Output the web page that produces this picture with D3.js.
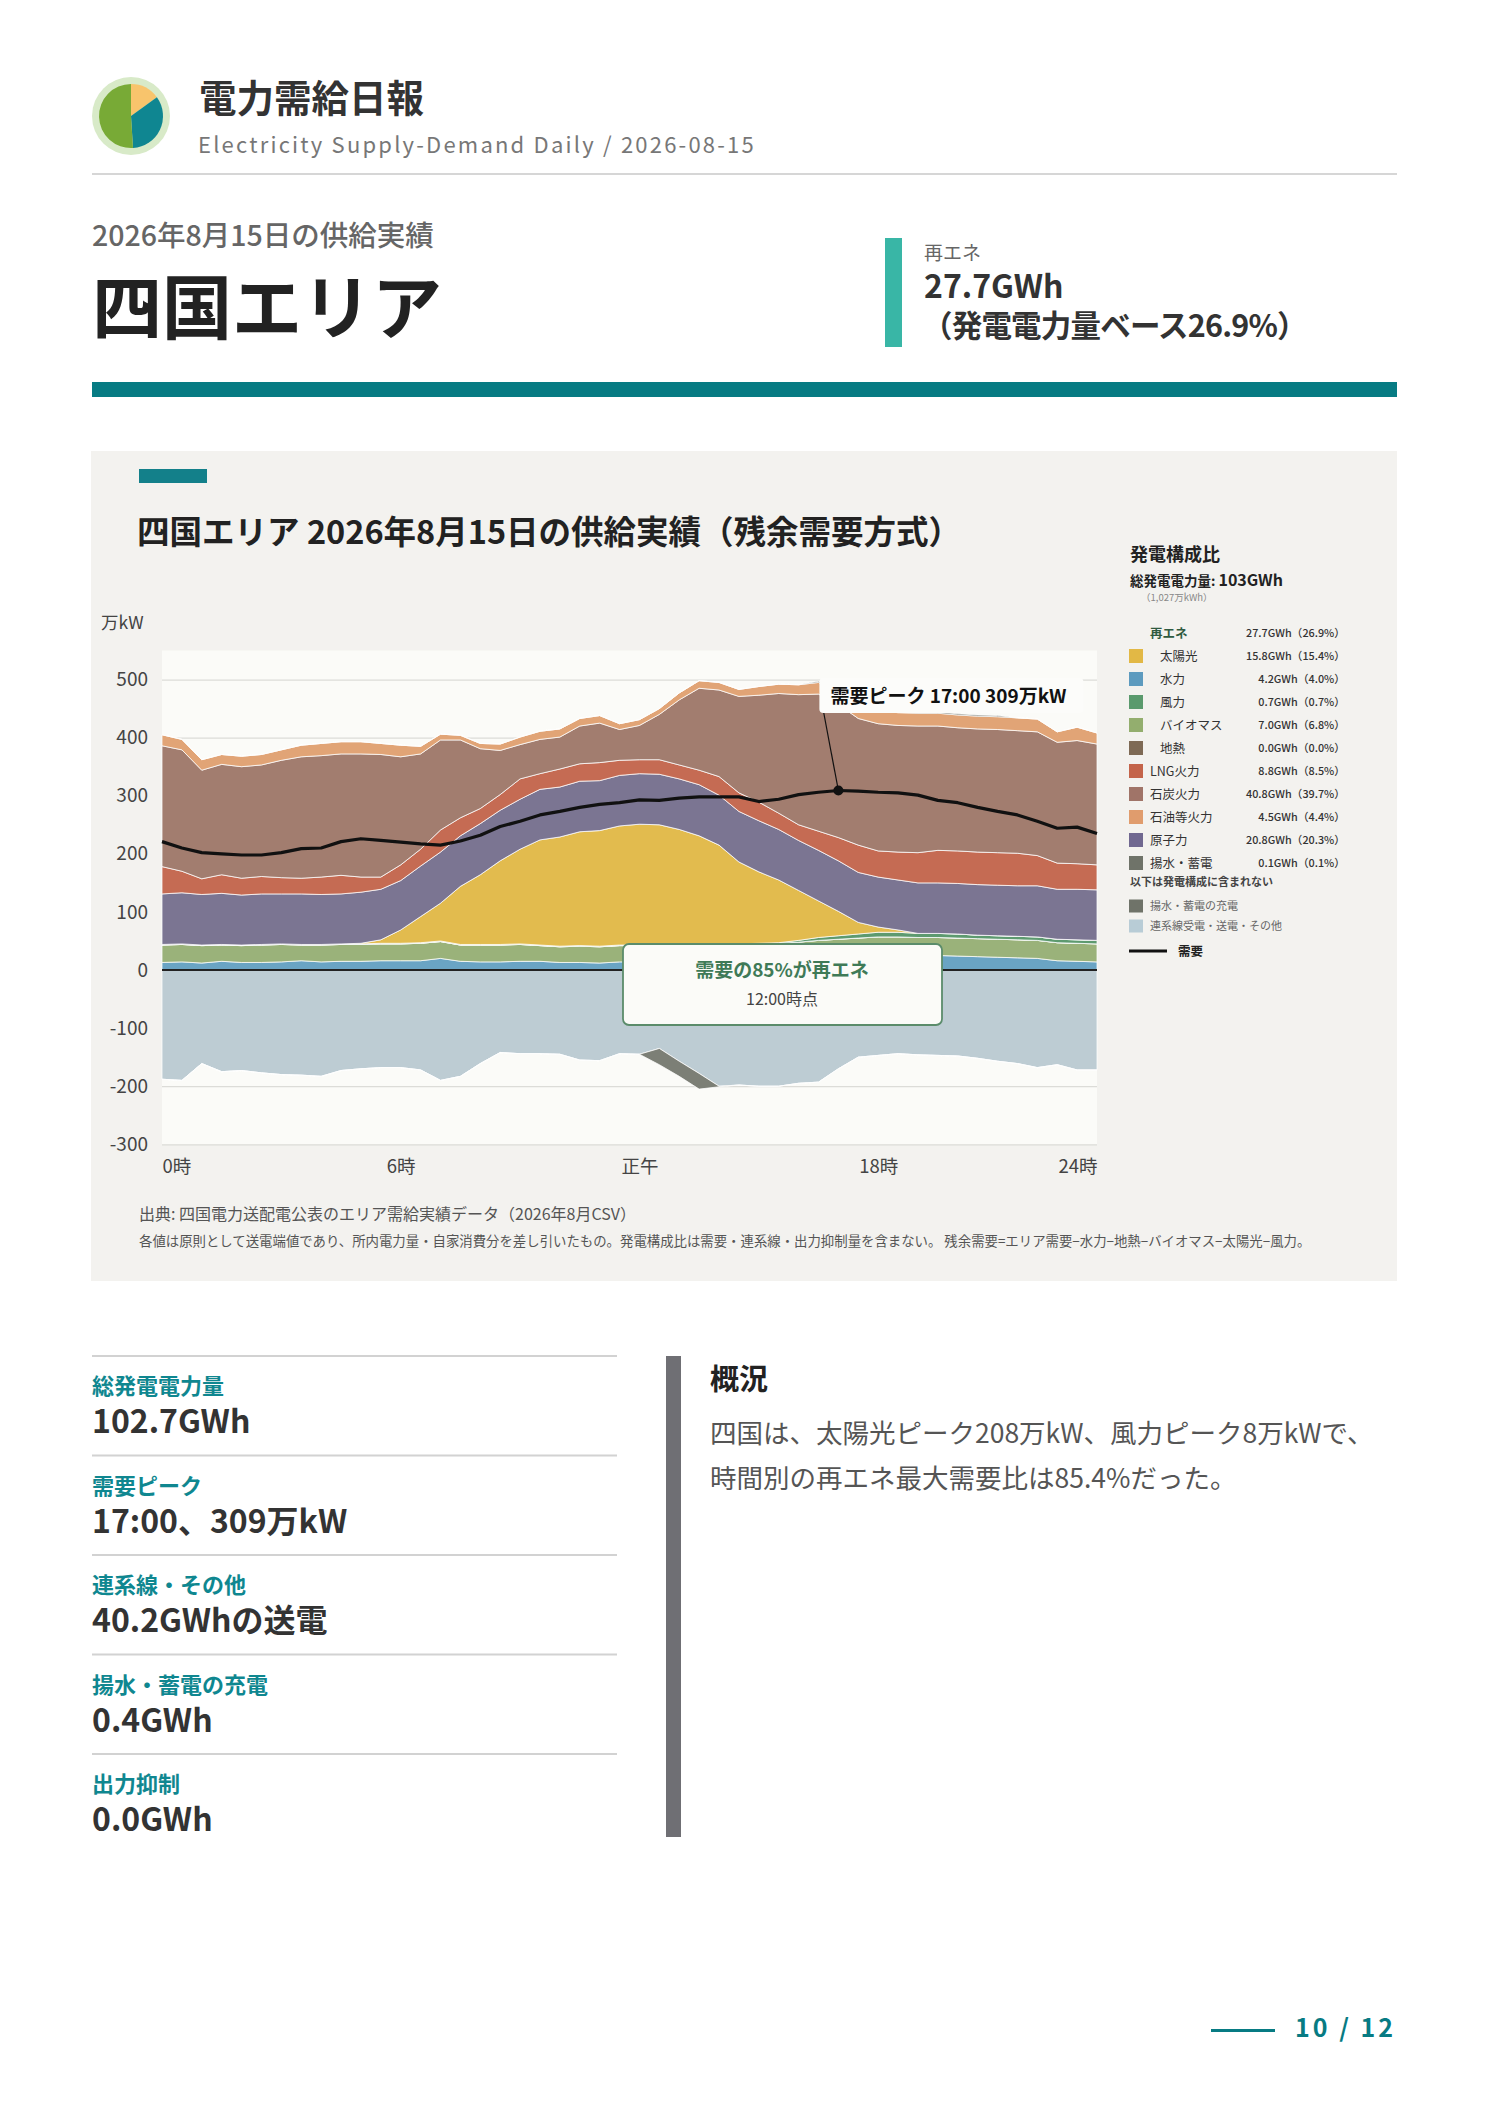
<!DOCTYPE html>
<html lang="ja">
<head>
<meta charset="utf-8">
<title>電力需給日報 四国エリア</title>
<script src="https://cdn.jsdelivr.net/npm/d3@7"></script>
<style>
  html, body { margin: 0; padding: 0; background: #fff; }
  svg { display: block; font-family: "Noto Sans CJK JP", "Noto Sans", sans-serif; }
</style>
</head>
<body>
<script>
// half-hourly time slots
const times = ["0:00","0:30","1:00","1:30","2:00","2:30","3:00","3:30","4:00","4:30","5:00","5:30",
  "6:00","6:30","7:00","7:30","8:00","8:30","9:00","9:30","10:00","10:30","11:00","11:30",
  "12:00","12:30","13:00","13:30","14:00","14:30","15:00","15:30","16:00","16:30","17:00","17:30",
  "18:00","18:30","19:00","19:30","20:00","20:30","21:00","21:30","22:00","22:30","23:00","23:30"];

// generation by source (万kW)
const hydro = [13,14,12,15,13,13,14,16,14,15,15,16,16,16,20,15,14,14,15,15,13,13,12,14,
  14,15,15,15,16,16,17,18,20,22,24,25,26,26,25,25,24,23,22,21,20,16,15,14];
const biomass = [30,30,30,28,29,30,30,27,29,29,29,29,29,30,29,28,29,29,29,27,27,28,28,28,
  28,28,28,28,28,28,28,28,28,29,29,30,31,31,31,31,31,31,31,31,31,31,31,31];
const geothermal = [0,0,0,0,0,0,0,0,0,0,0,0,0,0,0,0,0,0,0,0,0,0,0,0,
  0,0,0,0,0,0,0,0,0,0,0,0,0,0,0,0,0,0,0,0,0,0,0,0];
const wind = [1,1,1,1,1,1,1,1,1,1,1,1,1,1,1,1,1,1,1,1,1,1,1,1,
  1,1,1,1,1,1,1,1,3,5,6,7,8,8,7,7,7,6,6,6,6,6,6,6];
const solar = [0,0,0,0,0,0,0,0,0,0,1,6,23,45,65,100,120,144,163,181,188,196,199,205,
  208,206,198,187,170,141,123,108,86,63,42,20,9,4,0,0,0,0,0,0,0,0,0,0];
const nuclear = [87,88,87,88,86,87,86,87,86,86,88,87,85,87,88,87,88,87,86,87,86,87,86,87,
  87,87,87,88,86,87,88,87,86,87,87,86,86,86,87,87,87,87,87,87,88,86,87,87];
const lng = [47,37,27,32,29,30,28,27,30,32,26,21,27,29,38,31,26,27,35,27,31,30,31,26,
  24,25,24,25,32,32,32,28,27,33,40,47,45,48,52,56,56,56,56,56,52,45,44,43];
const coal = [208,209,187,190,192,192,202,209,209,209,212,211,186,164,155,134,103,76,59,59,55,65,68,53,
  59,78,112,141,149,166,184,206,224,236,229,218,219,218,218,214,212,212,212,211,213,208,212,208];
const oil = [19,18,18,17,18,18,18,20,21,21,21,19,20,13,10,8,9,11,13,14,14,13,13,10,
  10,10,12,13,13,12,15,16,17,20,21,22,22,22,22,22,22,22,22,22,22,18,23,19];
const pumpGen = [0,0,0,0,0,0,0,0,0,0,0,0,0,0,0,0,0,0,0,0,0,0,0,0,
  0,0,0,0,0,0,0,0,0,2,2,2,2,2,2,2,2,2,2,0,0,0,0,0];
// negative side: interconnection / other, pumped & battery charging
const connection = [-188,-190,-161,-175,-173,-177,-180,-181,-183,-173,-170,-168,-168,-172,-190,-183,-161,-142,-144,-144,-145,-155,-156,-144,
  -145,-135,-157,-178,-200,-198,-200,-200,-195,-193,-170,-150,-147,-144,-146,-147,-148,-152,-157,-161,-168,-163,-172,-172];
const pumpCharge = [0,0,0,0,0,0,0,0,0,0,0,0,0,0,0,0,0,0,0,0,0,0,0,0,
  0,-28,-26,-27,-1,0,0,0,0,0,0,0,0,0,0,0,0,0,0,0,0,0,0,0];
const demand = [221,210,202,200,198,198,202,209,210,221,226,223,220,217,215,222,232,247,256,267,273,280,285,288,
  293,292,296,298,298,298,290,294,302,306,309,308,306,305,301,292,288,280,273,267,256,244,246,235];

// axis ticks
const yTicks = [-300,-200,-100,0,100,200,300,400,500];
const xTickHours = [0,6,12,18,23.5];
const xTickLabels = ["0時","6時","正午","18時","24時"];

// legend (発電構成比)
const mixNames = ["太陽光","水力","風力","バイオマス","地熱","LNG火力","石炭火力","石油等火力","原子力","揚水・蓄電"];
const mixGWh = [15.8,4.2,0.7,7.0,0.0,8.8,40.8,4.5,20.8,0.1];
const mixPct = [15.4,4.0,0.7,6.8,0.0,8.5,39.7,4.4,20.3,0.1];
const renewGWh = 27.7, renewPct = 26.9;

// side stats
const statLabels = ["総発電電力量","需要ピーク","連系線・その他","揚水・蓄電の充電","出力抑制"];
const statValues = ["102.7GWh","17:00、309万kW","40.2GWhの送電","0.4GWh","0.0GWh"];

const logoShares = [0.15, 0.34, 0.51];

const W = 1488, H = 2105;
const teal = "#077b83";

const colors = {
  hydro: "#6aa4c4", biomass: "#9ab27a", geothermal: "#80694f", wind: "#5d9a6f",
  solar: "#e2bb4e", nuclear: "#7b7592", lng: "#c56b53", coal: "#a27d6f", oil: "#e1a476",
  pumpGen: "#72756c", connection: "#bdccd3", pumpCharge: "#7c7f76"
};
const legendColors = ["#e2b845","#5d9bbf","#5a9a6d","#93ae6e","#7e6a55","#c4644a","#a07468","#e09c6d","#706890","#6f7369"];

const svg = d3.select("body").append("svg")
    .attr("width", W)
    .attr("height", H);

svg.append("rect").attr("width", W).attr("height", H).attr("fill", "#fff");

// ---- header ----
const logo = svg.append("g").attr("transform", "translate(131,116)");
logo.append("circle").attr("r", 39).attr("fill", "#d8eac8");
const logoArc = d3.arc().innerRadius(0).outerRadius(32);
logo.selectAll("path")
    .data(d3.pie().sort(null)(logoShares))
    .enter()
    .append("path")
    .attr("d", logoArc)
    .attr("fill", (d, i) => ["#f8c46c", "#0f8691", "#78aa36"][i]);

svg.append("text")
    .attr("x", 199).attr("y", 112)
    .attr("font-size", 37.5).attr("font-weight", 700).attr("fill", "#333")
    .text("電力需給日報");

svg.append("text")
    .attr("x", 198).attr("y", 153)
    .attr("font-size", 22).attr("fill", "#777").attr("letter-spacing", "2.2px")
    .text("Electricity Supply-Demand Daily / 2026-08-15");

svg.append("rect").attr("x", 92).attr("y", 173).attr("width", 1305).attr("height", 2).attr("fill", "#d6d6d6");

svg.append("text")
    .attr("x", 92).attr("y", 246)
    .attr("font-size", 28.5).attr("font-weight", 500).attr("fill", "#666")
    .text("2026年8月15日の供給実績");

svg.append("text")
    .attr("x", 92).attr("y", 334)
    .attr("font-size", 70).attr("font-weight", 700).attr("fill", "#222")
    .text("四国エリア");

svg.append("rect").attr("x", 885).attr("y", 238).attr("width", 17).attr("height", 109).attr("fill", "#39b6a6");
svg.append("text").attr("x", 924).attr("y", 260)
    .attr("font-size", 19).attr("fill", "#666").text("再エネ");
svg.append("text").attr("x", 924).attr("y", 298)
    .attr("font-size", 32).attr("font-weight", 700).attr("fill", "#333")
    .text(renewGWh.toFixed(1) + "GWh");
svg.append("text").attr("x", 922).attr("y", 337)
    .attr("font-size", 30.5).attr("font-weight", 700).attr("fill", "#333")
    .attr("letter-spacing", "-0.8px")
    .text("（発電電力量ベース" + renewPct.toFixed(1) + "%）");

svg.append("rect").attr("x", 92).attr("y", 382).attr("width", 1305).attr("height", 15).attr("fill", teal);

// ---- chart panel ----
svg.append("rect").attr("x", 91).attr("y", 451).attr("width", 1306).attr("height", 830).attr("fill", "#f3f2ef");
svg.append("rect").attr("x", 139).attr("y", 469).attr("width", 68).attr("height", 14).attr("fill", "#13808a");

svg.append("text")
    .attr("x", 137).attr("y", 544)
    .attr("font-size", 32.5).attr("font-weight", 700).attr("fill", "#222")
    .text("四国エリア 2026年8月15日の供給実績（残余需要方式）");

svg.append("text")
    .attr("x", 101).attr("y", 629)
    .attr("font-size", 17.5).attr("fill", "#444")
    .text("万kW");

const x = d3.scaleLinear().domain([0, 23.5]).range([162, 1097]);
const y = d3.scaleLinear().domain([-300, 550]).range([1144.3, 650.5]);

const rows = times.map(function (s, i) {
    const p = s.split(":");
    return {
        t: +p[0] + (+p[1]) / 60,
        hydro: hydro[i], biomass: biomass[i], geothermal: geothermal[i], wind: wind[i],
        solar: solar[i], nuclear: nuclear[i], lng: lng[i], coal: coal[i], oil: oil[i],
        pumpGen: pumpGen[i], connection: connection[i], pumpCharge: pumpCharge[i]
    };
});

// positive sources stack upward, negative ones downward from zero
const posKeys = ["hydro","biomass","geothermal","wind","solar","nuclear","lng","coal","oil","pumpGen"];
const negKeys = ["connection","pumpCharge"];
const series = d3.stack().keys(posKeys)(rows).concat(d3.stack().keys(negKeys)(rows));

const chart = svg.append("g");

chart.append("rect")
    .attr("x", x(0)).attr("y", y(550))
    .attr("width", x(23.5) - x(0)).attr("height", y(-300) - y(550))
    .attr("fill", "#fbfbf8");

// grid
chart.append("g")
    .attr("transform", "translate(" + x(0) + ",0)")
    .call(d3.axisLeft(y).tickValues(yTicks).tickSize(-(x(23.5) - x(0))).tickFormat(""))
    .call(g => g.select(".domain").remove())
    .call(g => g.selectAll("line").attr("stroke", "#dcdcd8").attr("stroke-width", 1.2));

const area = d3.area()
    .x(d => x(d.data.t))
    .y0(d => y(d[0]))
    .y1(d => y(d[1]));

chart.selectAll(".layer")
    .data(series)
    .enter()
    .append("path")
    .attr("class", "layer")
    .attr("d", area)
    .attr("fill", d => colors[d.key])
    .attr("stroke", "#ffffff")
    .attr("stroke-opacity", 0.75)
    .attr("stroke-width", 1);

// zero line
chart.append("line")
    .attr("x1", x(0)).attr("x2", x(23.5))
    .attr("y1", y(0)).attr("y2", y(0))
    .attr("stroke", "#222").attr("stroke-width", 2);

// axes
chart.append("g")
    .attr("transform", "translate(" + x(0) + ",0)")
    .call(d3.axisLeft(y).tickValues(yTicks).tickSize(0).tickPadding(14).tickFormat(d => String(d)))
    .call(g => g.select(".domain").remove())
    .call(g => g.selectAll("text")
        .attr("font-family", "Noto Sans CJK JP")
        .attr("font-size", 19).attr("fill", "#444"));

chart.append("g")
    .attr("transform", "translate(0," + y(-300) + ")")
    .call(d3.axisBottom(x).tickValues(xTickHours).tickSize(0).tickPadding(16)
        .tickFormat((d, i) => xTickLabels[i]))
    .call(g => g.select(".domain").remove())
    .call(g => g.selectAll("text")
        .attr("font-family", "Noto Sans CJK JP")
        .attr("font-size", 18.5).attr("fill", "#444")
        .attr("text-anchor", (d, i) => i === 0 ? "start" : (i === xTickHours.length - 1 ? "end" : "middle")));

// demand line
const line = d3.line()
    .x(d => x(d.t))
    .y(d => y(d.v));

const demandPts = rows.map((r, i) => ({ t: r.t, v: demand[i] }));

chart.append("path")
    .datum(demandPts)
    .attr("d", line)
    .attr("fill", "none")
    .attr("stroke", "#111")
    .attr("stroke-width", 3.2)
    .attr("stroke-linejoin", "round");

// peak annotation
const pk = d3.maxIndex(demand);
const px = x(rows[pk].t), py = y(demand[pk]);

chart.append("line")
    .attr("x1", px).attr("y1", py)
    .attr("x2", px - 15).attr("y2", 711)
    .attr("stroke", "#111").attr("stroke-width", 1.2);

chart.append("circle")
    .attr("cx", px).attr("cy", py).attr("r", 5)
    .attr("fill", "#111");

chart.append("rect")
    .attr("x", px - 19).attr("y", 678)
    .attr("width", 264).attr("height", 35)
    .attr("rx", 4)
    .attr("fill", "#fcfcfa");

chart.append("text")
    .attr("x", px - 8).attr("y", 703)
    .attr("font-size", 19).attr("font-weight", 700).attr("fill", "#111")
    .text("需要ピーク " + times[pk] + " " + demand[pk] + "万kW");

// renewable share annotation
chart.append("rect")
    .attr("x", 623).attr("y", 944)
    .attr("width", 319).attr("height", 81)
    .attr("rx", 6)
    .attr("fill", "#fbfbf8")
    .attr("stroke", "#5b8c6b")
    .attr("stroke-width", 1.8);

chart.append("text")
    .attr("x", 782).attr("y", 977)
    .attr("text-anchor", "middle")
    .attr("font-size", 19).attr("font-weight", 700).attr("fill", "#3f7a57")
    .text("需要の85%が再エネ");

chart.append("text")
    .attr("x", 782).attr("y", 1005)
    .attr("text-anchor", "middle")
    .attr("font-size", 16).attr("fill", "#444")
    .text("12:00時点");

// ---- legend ----
const lg = svg.append("g");

lg.append("text").attr("x", 1130).attr("y", 561)
    .attr("font-size", 18).attr("font-weight", 700).attr("fill", "#222")
    .text("発電構成比");

const tot = lg.append("text").attr("x", 1130).attr("y", 586).attr("fill", "#222");
tot.append("tspan").attr("font-size", 13.5).attr("font-weight", 700).text("総発電電力量: ");
tot.append("tspan").attr("font-size", 16).attr("font-weight", 600).text("103GWh");

lg.append("text").attr("x", 1141).attr("y", 601)
    .attr("font-size", 9.5).attr("fill", "#888")
    .text("（1,027万kWh）");

const rowY = k => 633 + k * 23;

lg.append("text").attr("x", 1150).attr("y", rowY(0) + 4.5)
    .attr("font-size", 12.5).attr("font-weight", 700).attr("fill", "#2f5a40")
    .text("再エネ");
lg.append("text").attr("x", 1345).attr("y", rowY(0) + 4)
    .attr("text-anchor", "end").attr("font-size", 10.8).attr("font-weight", 500).attr("fill", "#333")
    .text(renewGWh.toFixed(1) + "GWh（" + renewPct.toFixed(1) + "%）");

const items = lg.selectAll(".item")
    .data(mixNames)
    .enter()
    .append("g")
    .attr("class", "item")
    .attr("transform", (d, i) => "translate(0," + rowY(i + 1) + ")");

items.append("rect")
    .attr("x", 1129).attr("y", -7)
    .attr("width", 14).attr("height", 14)
    .attr("fill", (d, i) => legendColors[i]);

items.append("text")
    .attr("x", (d, i) => i < 5 ? 1160 : 1150)
    .attr("y", 4.5)
    .attr("font-size", 12.5).attr("fill", "#333")
    .text(d => d);

items.append("text")
    .attr("x", 1345).attr("y", 4)
    .attr("text-anchor", "end")
    .attr("font-size", 10.8).attr("font-weight", 500).attr("fill", "#333")
    .text((d, i) => mixGWh[i].toFixed(1) + "GWh（" + mixPct[i].toFixed(1) + "%）");

lg.append("text").attr("x", 1130).attr("y", 886)
    .attr("font-size", 11).attr("font-weight", 700).attr("fill", "#444")
    .text("以下は発電構成に含まれない");

const extraNames = ["揚水・蓄電の充電", "連系線受電・送電・その他"];
const extraColors = ["#6f7369", "#b8ccd6"];
extraNames.forEach(function (n, i) {
    const cy = 906 + i * 20;
    lg.append("rect").attr("x", 1129).attr("y", cy - 6.5)
        .attr("width", 14).attr("height", 13).attr("fill", extraColors[i]);
    lg.append("text").attr("x", 1150).attr("y", cy + 4)
        .attr("font-size", 11).attr("fill", "#666").text(n);
});

lg.append("line").attr("x1", 1129).attr("x2", 1167).attr("y1", 951).attr("y2", 951)
    .attr("stroke", "#111").attr("stroke-width", 3);
lg.append("text").attr("x", 1178).attr("y", 955.5)
    .attr("font-size", 12.5).attr("font-weight", 700).attr("fill", "#222")
    .text("需要");

// source notes
svg.append("text").attr("x", 139).attr("y", 1220)
    .attr("font-size", 16).attr("fill", "#555")
    .text("出典: 四国電力送配電公表のエリア需給実績データ（2026年8月CSV）");
svg.append("text").attr("x", 139).attr("y", 1246)
    .attr("font-size", 13.4).attr("fill", "#555")
    .text("各値は原則として送電端値であり、所内電力量・自家消費分を差し引いたもの。発電構成比は需要・連系線・出力抑制量を含まない。 残余需要=エリア需要−水力−地熱−バイオマス−太陽光−風力。");

// ---- stats ----
const stats = svg.selectAll(".stat")
    .data(statLabels)
    .enter()
    .append("g")
    .attr("class", "stat")
    .attr("transform", (d, i) => "translate(92," + (1356 + i * 99.5) + ")");

stats.append("rect").attr("x", 0).attr("y", -1).attr("width", 525).attr("height", 2).attr("fill", "#d2d2d2");
stats.append("text").attr("x", 0).attr("y", 38)
    .attr("font-size", 22).attr("font-weight", 700).attr("fill", "#0f8790")
    .text(d => d);
stats.append("text").attr("x", 0).attr("y", 77)
    .attr("font-size", 32).attr("font-weight", 700).attr("fill", "#333")
    .text((d, i) => statValues[i]);

// ---- overview ----
svg.append("rect").attr("x", 666).attr("y", 1356).attr("width", 15).attr("height", 481).attr("fill", "#6f6f74");
svg.append("text").attr("x", 710).attr("y", 1390)
    .attr("font-size", 29).attr("font-weight", 700).attr("fill", "#222")
    .text("概況");
svg.append("text").attr("x", 710).attr("y", 1443)
    .attr("font-size", 26.5).attr("fill", "#555")
    .text("四国は、太陽光ピーク" + d3.max(solar) + "万kW、風力ピーク" + d3.max(wind) + "万kWで、");
svg.append("text").attr("x", 710).attr("y", 1488)
    .attr("font-size", 26.5).attr("fill", "#555")
    .text("時間別の再エネ最大需要比は85.4%だった。");

// ---- footer ----
svg.append("rect").attr("x", 1211).attr("y", 2029).attr("width", 64).attr("height", 3).attr("fill", teal);
svg.append("text").attr("x", 1295).attr("y", 2037)
    .attr("font-size", 25).attr("font-weight", 700).attr("fill", teal)
    .attr("letter-spacing", "3px")
    .text("10 / 12");
</script>
</body>
</html>
